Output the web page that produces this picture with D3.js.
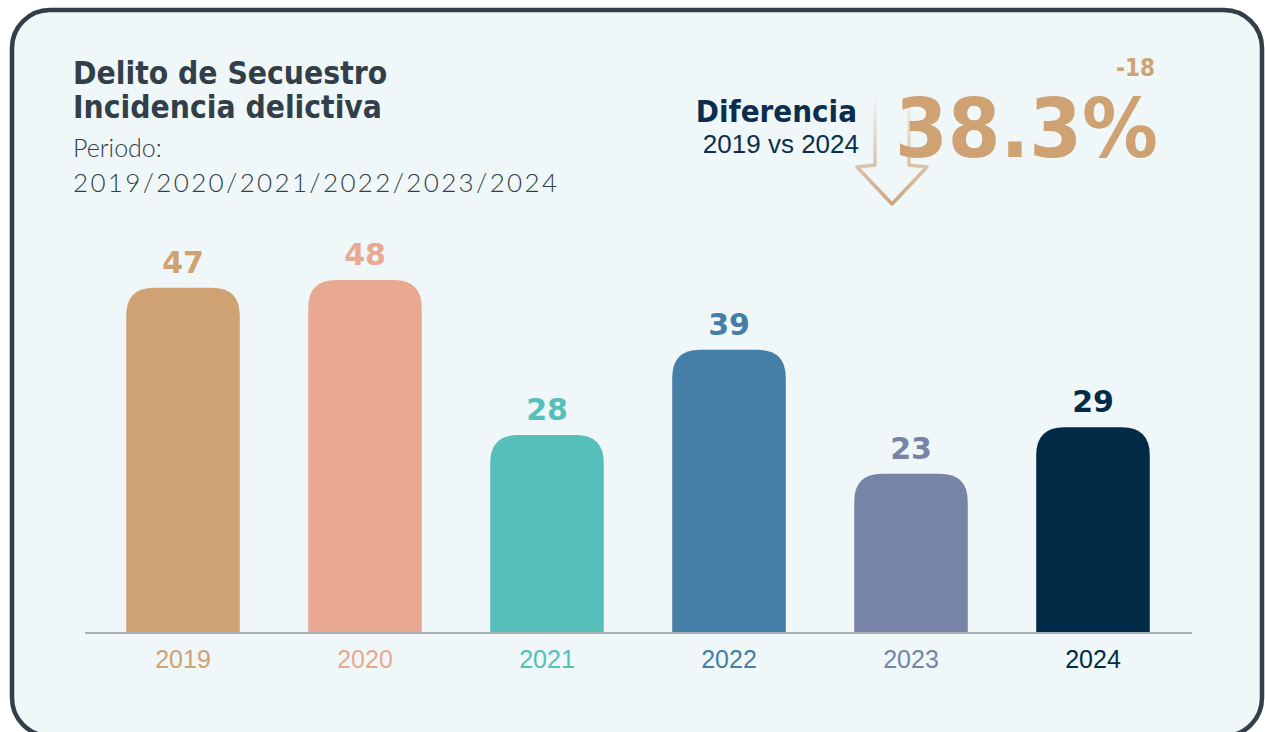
<!DOCTYPE html>
<html><head><meta charset="utf-8">
<script src="https://cdn.jsdelivr.net/npm/d3@7/dist/d3.min.js"></script>
<style>
html,body{margin:0;padding:0;background:#ffffff;}
svg{display:block;}
</style></head>
<body>
<svg id="chart" width="1265" height="732"></svg>
<script>
// ---- data ----
const years = ["2019","2020","2021","2022","2023","2024"];
const values = [47, 48, 28, 39, 23, 29];
const barColors = ["#cfa274","#e9a892","#57bfba","#457ea6","#7884a7","#022b48"];
const titleLines = ["Delito de Secuestro","Incidencia delictiva"];
const periodLines = ["Periodo:","2019/2020/2021/2022/2023/2024"];
const diffLabel = "Diferencia";
const diffSub = "2019 vs 2024";
const diffPct = "38.3%";
const diffAbs = "-18";

const svg = d3.select("#chart");

const defs = svg.append("defs");
const grad = defs.append("linearGradient").attr("id","arrowGrad")
  .attr("x1","0").attr("y1","0").attr("x2","0").attr("y2","1");
grad.append("stop").attr("offset","0").attr("stop-color","#cfa274").attr("stop-opacity",0);
grad.append("stop").attr("offset","1").attr("stop-color","#c9a27a").attr("stop-opacity",0.95);

// card
svg.append("rect").attr("x",12).attr("y",10).attr("width",1250).attr("height",726)
  .attr("rx",38).attr("ry",38).attr("fill","#eff7f9").attr("stroke","#323e48").attr("stroke-width",4.5);

// scales
const baseY = 633;
const x = d3.scaleBand().domain(years).range([92,1184]).paddingInner(0.376).paddingOuter(0.188);
const y = d3.scaleLinear().domain([0,48]).range([652,280]);
const color = d3.scaleOrdinal().domain(years).range(barColors);
const data = years.map((yr,i)=>({year:yr, value:values[i]}));

// bars with rounded top
function barPath(d){
  const x0 = x(d.year), w = x.bandwidth(), y0 = y(d.value), r = 28;
  return `M${x0},${baseY}V${y0+r}Q${x0},${y0} ${x0+r},${y0}H${x0+w-r}Q${x0+w},${y0} ${x0+w},${y0+r}V${baseY}Z`;
}
svg.append("g").selectAll("path").data(data).join("path")
  .attr("d",barPath).attr("fill",d=>color(d.year));

// value labels
svg.append("g").selectAll("text").data(data).join("text")
  .attr("x",d=>x(d.year)+x.bandwidth()/2).attr("y",d=>y(d.value)-15)
  .attr("text-anchor","middle")
  .attr("font-family","'DejaVu Sans'").attr("font-weight","bold").attr("font-size",30)
  .attr("fill",d=>color(d.year)).text(d=>d.value);

// axis
const axis = svg.append("g").attr("transform",`translate(0,${baseY})`)
  .call(d3.axisBottom(x).tickSize(0).tickPadding(0));
axis.select(".domain").remove();
axis.append("line").attr("x1",85).attr("x2",1192).attr("y1",0).attr("y2",0)
  .attr("stroke","#a9b0b8").attr("stroke-width",2);
axis.selectAll(".tick text").attr("y",35).attr("dy",null)
  .attr("font-family","'Liberation Sans', Arial, sans-serif").attr("font-size",25)
  .attr("fill",d=>color(d));

// title
svg.append("g").selectAll("text").data(titleLines).join("text")
  .attr("x",73).attr("y",(d,i)=>84+i*34)
  .attr("font-family","'DejaVu Sans Condensed'").attr("font-weight","bold").attr("font-size",31.5)
  .attr("fill","#323e48").text(d=>d);
svg.append("text").attr("x",73).attr("y",157)
  .attr("font-family","Lato").attr("font-weight",300).attr("font-size",25)
  .attr("fill","#323e48").text(periodLines[0]);
svg.append("text").attr("x",73).attr("y",192)
  .attr("font-family","Lato").attr("font-weight",300).attr("font-size",26)
  .attr("textLength",484).attr("lengthAdjust","spacing")
  .attr("fill","#323e48").text(periodLines[1]);

// arrow
const ax = 892;
const arrowPts = [[ax-17,96],[ax-17,165],[ax-35,167],[ax,204],[ax+35,167],[ax+17,165],[ax+17,96]];
svg.append("path").attr("d",d3.line()(arrowPts))
  .attr("fill","none").attr("stroke","url(#arrowGrad)").attr("stroke-width",3.5)
  .attr("stroke-linejoin","round").attr("stroke-linecap","round");

// difference block
svg.append("text").attr("x",857).attr("y",122).attr("text-anchor","end")
  .attr("font-family","'DejaVu Sans Condensed'").attr("font-weight","bold").attr("font-size",31)
  .attr("fill","#0b2e4f").text(diffLabel);
svg.append("text").attr("x",859).attr("y",153).attr("text-anchor","end")
  .attr("font-family","'Liberation Sans', Arial, sans-serif").attr("font-size",26)
  .attr("fill","#0b2e4f").text(diffSub);
svg.append("text").attr("x",895).attr("y",157)
  .attr("font-family","'DejaVu Sans Condensed'").attr("font-weight","bold").attr("font-size",82)
  .attr("textLength",263).attr("lengthAdjust","spacingAndGlyphs")
  .attr("fill","#cfa274").text(diffPct);
svg.append("text").attr("x",1155).attr("y",76).attr("text-anchor","end")
  .attr("font-family","'DejaVu Sans Condensed'").attr("font-weight","bold").attr("font-size",24)
  .attr("fill","#cfa274").text(diffAbs);
</script>
</body></html>
